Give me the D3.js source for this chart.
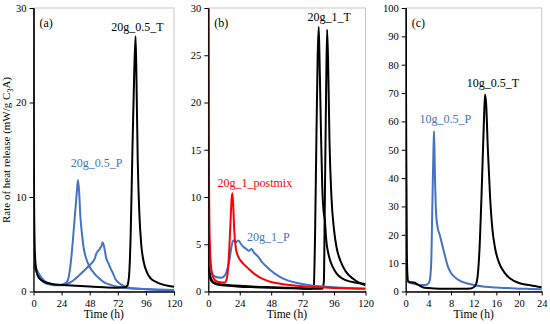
<!DOCTYPE html>
<html>
<head>
<meta charset="utf-8">
<script src="https://cdn.jsdelivr.net/npm/d3@7"></script>
<style>
body { margin: 0; background: #fff; }
</style>
</head>
<body>
<svg id="chart" width="550" height="324"></svg>
<script>
const svg = d3.select('#chart')
const blu = "#4472C4", rosso = "#FF0000", nero = "#000000"
const serif = 'Liberation Serif'

// panel (a) - 20g_0.5
const a_T_t = [0, 0.3, 0.7, 1.2, 2, 3, 5, 8, 12, 18, 24, 36, 48, 60, 72, 78, 80, 81.5, 83, 84.5, 86, 87.2, 88, 89, 90.5, 92, 94, 97, 100, 105, 110, 115, 120]
const a_T_v = [30, 14, 7, 4, 2.6, 1.9, 1.4, 1.1, 0.9, 0.75, 0.7, 0.6, 0.52, 0.45, 0.4, 0.45, 0.6, 1.5, 6, 15, 23, 27, 22, 14, 8, 5, 3.2, 2, 1.4, 1, 0.75, 0.6, 0.5]
const a_P1_t = [0, 1, 2, 4, 6, 8, 10, 14, 18, 22, 26, 29, 31, 33, 35, 37, 38, 39, 40, 41.5, 43, 45, 48, 52, 56, 60, 66, 72, 80, 90, 105, 120]
const a_P1_v = [3, 2.7, 2.5, 2, 1.6, 1.3, 1.05, 0.85, 0.75, 0.7, 0.8, 1.1, 2.2, 4.5, 7.5, 10.5, 11.8, 10.5, 8, 6, 4.5, 3.5, 2.6, 1.9, 1.4, 1, 0.7, 0.5, 0.35, 0.28, 0.22, 0.15]
const a_P2_t = [0, 1, 2, 4, 6, 8, 10, 14, 20, 26, 32, 38, 44, 48, 52, 54, 56, 57, 58, 59, 60, 61, 62, 64, 66, 68, 70, 73, 77, 82, 90, 100, 110, 120]
const a_P2_v = [2.7, 2.5, 2.2, 1.7, 1.3, 1.05, 0.9, 0.75, 0.65, 0.7, 1, 1.6, 2.3, 2.8, 3.4, 4.1, 4.4, 4.6, 4.8, 5.2, 4.9, 4.3, 3.6, 3, 2.4, 1.9, 1.3, 0.9, 0.6, 0.4, 0.3, 0.2, 0.15, 0.1]

// panel (b) - 20g_1
const b_T1_t = [0, 0.5, 1, 2, 4, 8, 15, 24, 36, 48, 60, 72, 79, 80.5, 81.5, 82.5, 83.5, 84.3, 85, 86, 87, 88, 89, 90, 92, 95, 98, 102, 107, 112, 120]
const b_T1_v = [5, 3, 2, 1.4, 1, 0.8, 0.7, 0.6, 0.5, 0.45, 0.4, 0.35, 0.3, 0.5, 6, 16, 25, 28, 24, 17, 11, 8.5, 7.5, 5.5, 3.8, 2.6, 1.9, 1.4, 1.1, 0.95, 0.8]
const b_T2_t = [0, 0.5, 1, 2, 4, 8, 15, 24, 36, 48, 60, 72, 80, 87, 88.2, 89, 90, 90.7, 91.5, 92.5, 94, 96, 98, 101, 105, 110, 115, 120]
const b_T2_v = [4, 2.6, 1.8, 1.2, 0.9, 0.7, 0.6, 0.5, 0.45, 0.4, 0.35, 0.3, 0.28, 0.3, 1, 10, 22, 27.7, 24, 16, 10, 6.5, 4.6, 3.2, 2.1, 1.4, 0.95, 0.65]
const b_pm_t = [0, 0.3, 0.7, 1.2, 2, 3, 4.5, 6, 8, 10, 12.5, 14, 15, 16, 17, 17.8, 18.4, 19, 19.8, 21, 22.5, 24, 27, 30, 34, 38, 42, 48, 56, 64, 72, 84, 96, 108, 120]
const b_pm_v = [32, 18, 9, 5, 2.8, 1.8, 1.3, 1.1, 1, 0.95, 0.95, 1.3, 2.3, 4.5, 7.5, 9.8, 10.4, 9.2, 6.5, 4.6, 3.8, 3.4, 2.9, 2.5, 2, 1.6, 1.3, 1, 0.8, 0.65, 0.55, 0.45, 0.38, 0.33, 0.3]
const b_P_t = [0, 0.5, 1, 2, 3, 5, 7, 9.5, 12, 14, 16, 17.5, 19, 21, 23, 25, 27, 29, 31, 33, 35, 38, 41, 44, 48, 54, 60, 68, 76, 86, 96, 108, 120]
const b_P_v = [5.5, 4, 3, 2.3, 1.9, 1.6, 1.5, 1.45, 1.6, 2.1, 3.2, 4.6, 5.4, 5.2, 5.4, 5, 4.7, 4.5, 4.3, 4.5, 4.1, 3.7, 3.1, 2.7, 2.2, 1.6, 1.2, 0.9, 0.7, 0.55, 0.45, 0.38, 0.3]

// panel (c) - 10g_0.5
const c_T_t = [0, 0.1, 0.2, 0.3, 0.45, 0.8, 1.2, 1.6, 2, 2.5, 3, 4, 6, 8, 10, 11.5, 12.2, 12.6, 13, 13.4, 13.8, 14, 14.2, 14.5, 14.9, 15.3, 15.8, 16.5, 17.5, 18.5, 20, 22, 24]
const c_T_v = [100, 50, 15, 6, 3.6, 3.3, 3.2, 3.1, 2.6, 2, 1.5, 1.2, 1, 1, 1, 1.1, 1.8, 4, 14, 35, 60, 69.5, 66, 50, 33, 22, 15, 10, 6.5, 4.5, 3, 2.2, 1.5]
const c_P_t = [0.3, 0.8, 1.5, 2, 3, 3.8, 4.2, 4.5, 4.7, 4.9, 5, 5.15, 5.35, 5.6, 6, 6.5, 7, 7.5, 8, 9, 10, 12, 14, 16, 18, 20, 22, 24]
const c_P_v = [3.5, 3, 2.7, 2.5, 2.3, 2.5, 3.5, 10, 30, 50, 56.5, 42, 28, 23, 20, 16, 12, 8.5, 6.5, 4.5, 3.4, 2.3, 1.7, 1.4, 1.2, 1, 0.9, 0.8]

const ytop = 8, ybot = 291.5
const pannelli = [
  { x0: 33.5, x1: 174, tmax: 120, xticks: [0, 24, 48, 72, 96, 120], vmax: 30, yticks: [0, 10, 20, 30],
    serie: [[a_P1_t, a_P1_v, blu], [a_P2_t, a_P2_v, blu], [a_T_t, a_T_v, nero]],
    testi: [["(a)", null, null, nero], ["20g_0.5_T", 88.8, 27.6, nero], ["20g_0.5_P", 53.8, 13.2, blu]] },
  { x0: 208.3, x1: 365.5, tmax: 120, xticks: [0, 24, 48, 72, 96, 120], vmax: 30, yticks: [0, 5, 10, 15, 20, 25, 30],
    serie: [[b_T1_t, b_T1_v, nero], [b_T2_t, b_T2_v, nero], [b_P_t, b_P_v, blu], [b_pm_t, b_pm_v, rosso]],
    testi: [["(b)", null, null, nero], ["20g_1_T", 92.3, 28.6, nero], ["20g_1_postmix", 35.5, 11.1, rosso], ["20g_1_P", 45.9, 5.3, blu]] },
  { x0: 405.7, x1: 541.7, tmax: 24, xticks: [0, 4, 8, 12, 16, 20, 24], vmax: 100, yticks: [0, 10, 20, 30, 40, 50, 60, 70, 80, 90, 100],
    serie: [[c_P_t, c_P_v, blu], [c_T_t, c_T_v, nero]],
    testi: [["(c)", null, null, nero], ["10g_0.5_T", 15.4, 72.1, nero], ["10g_0.5_P", 7.0, 59.4, blu]] }
]

pannelli.forEach((p, k) => {
  const x = d3.scaleLinear().domain([0, p.tmax]).range([p.x0, p.x1])
  const y = d3.scaleLinear().domain([0, p.vmax]).range([ybot, ytop])
  const g = svg.append('g').attr('font-family', serif)

  // cornice grigia
  g.append('rect')
    .attr('x', p.x0).attr('y', ytop)
    .attr('width', p.x1 - p.x0).attr('height', ybot - ytop)
    .attr('fill', 'none').attr('stroke', '#c8c8c8').attr('stroke-width', 1)

  svg.append('clipPath').attr('id', 'clip' + k)
    .append('rect').attr('x', p.x0).attr('y', ytop).attr('width', p.x1 - p.x0).attr('height', ybot - ytop)

  const linea = d3.line().x(d => x(d[0])).y(d => y(d[1])).curve(d3.curveMonotoneX)
  p.serie.forEach(s => {
    g.append('path')
      .datum(s[0].map((t, i) => [t, s[1][i]]))
      .attr('d', linea)
      .attr('fill', 'none')
      .attr('stroke', s[2])
      .attr('stroke-width', 2)
      .attr('stroke-linejoin', 'round')
      .attr('clip-path', `url(#clip${k})`)
  })

  const ax = g.append('g').attr('transform', `translate(0,${ybot})`)
    .call(d3.axisBottom(x).tickValues(p.xticks).tickSize(4).tickSizeOuter(0).tickPadding(4))
  const ay = g.append('g').attr('transform', `translate(${p.x0},0)`)
    .call(d3.axisLeft(y).tickValues(p.yticks).tickSize(4).tickSizeOuter(0).tickPadding(3))
  ;[ax, ay].forEach(a => {
    a.attr('font-family', null).attr('font-size', null)
    a.selectAll('text').attr('font-size', 10.5).attr('fill', '#000')
    a.selectAll('line, path').attr('stroke', '#000')
  })
  ax.select('.domain').attr('stroke-width', 1.3)
  ay.select('.domain').attr('stroke-width', 1.3)

  g.append('text')
    .attr('x', (p.x0 + p.x1) / 2).attr('y', 318)
    .attr('text-anchor', 'middle').attr('font-size', 11.5)
    .text('Time (h)')

  p.testi.forEach(t => {
    const el = g.append('text').attr('fill', t[3]).attr('font-size', 12).text(t[0])
    if (t[1] === null) el.attr('x', p.x0 + 6).attr('y', 27)
    else el.attr('x', x(t[1])).attr('y', y(t[2])).attr('text-anchor', 'middle')
  })
})

// titolo asse y
const ty = svg.append('text')
  .attr('transform', 'translate(10,150) rotate(-90)')
  .attr('text-anchor', 'middle')
  .attr('font-size', 11).attr('font-family', serif)
ty.append('tspan').text('Rate of heat release (mW/g C')
ty.append('tspan').attr('font-size', 8).attr('dy', 3).text('3')
ty.append('tspan').attr('dy', -3).text('A)')
</script>
</body>
</html>
